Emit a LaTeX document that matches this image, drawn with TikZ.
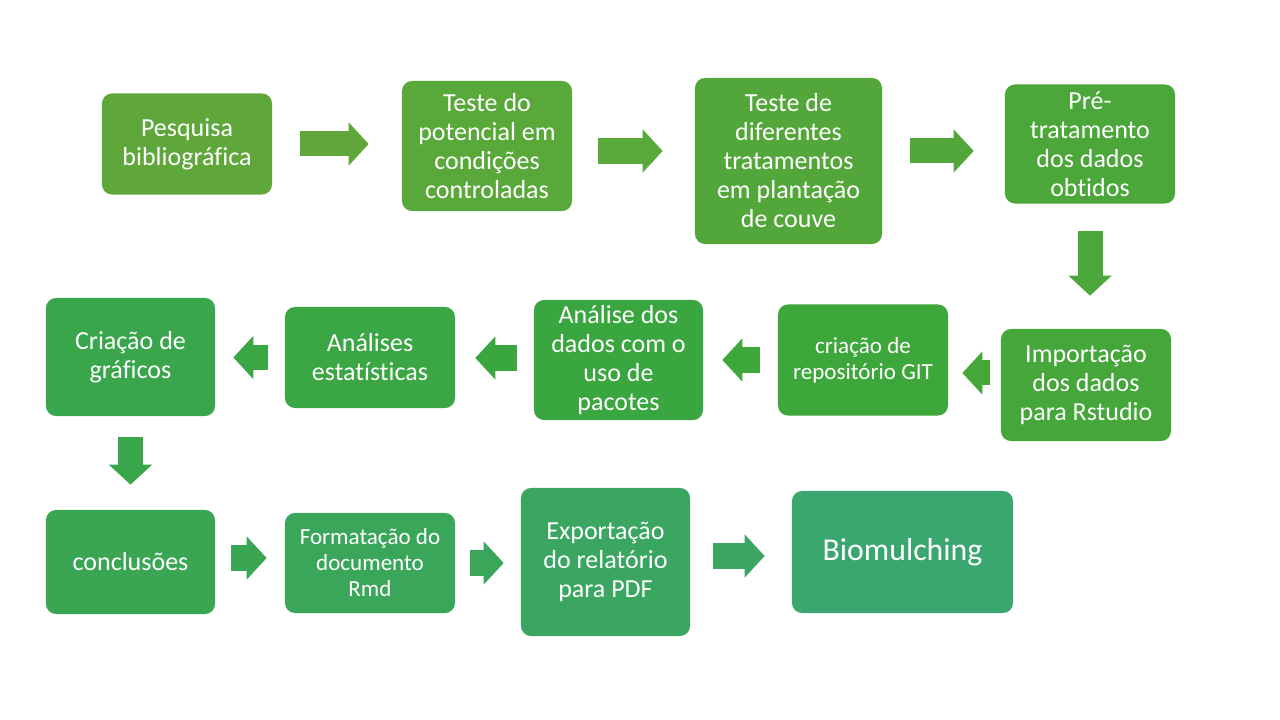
\documentclass[tikz,border=0pt]{standalone}
\usepackage{fontspec}
\setmainfont[Ligatures=NoCommon]{Carlito}
\usetikzlibrary{arrows.meta}

\definecolor{verdeA}{HTML}{5FA73A}
\definecolor{verdeB}{HTML}{59A83A}
\definecolor{verdeC}{HTML}{53A73A}
\definecolor{verdeD}{HTML}{4CA73A}
\definecolor{verdeE}{HTML}{45A73A}
\definecolor{verdeF}{HTML}{3EA73B}
\definecolor{verdeG}{HTML}{3AA63F}
\definecolor{verdeH}{HTML}{3AA644}
\definecolor{verdeI}{HTML}{3AA64C}
\definecolor{verdeJ}{HTML}{3AA653}
\definecolor{verdeK}{HTML}{3AA65A}
\definecolor{verdeL}{HTML}{3AA661}
\definecolor{verdeM}{HTML}{3AA76E}

\begin{document}
\begin{tikzpicture}[
  x=0.025cm, y=-0.025cm,
  font=\fontsize{18.5}{20.6}\selectfont,
  box/.style={
    fill=#1,
    text=white,
    rounded corners=0.25cm,
    align=center,
    inner sep=2pt
  },
  small/.style={font=\fontsize{16.4}{18.5}\selectfont},
  seta/.style={
    draw=#1,
    line width=0.625cm,
    -{Triangle[length=0.5cm,width=1.05cm]}
  }
]

\useasboundingbox (0,0) rectangle (1280,720);

\node[box=verdeA, minimum width=4.25cm, minimum height=2.525cm] (pesquisa) at (187,144) {Pesquisa\\bibliográfica};
\node[box=verdeB, minimum width=4.25cm, minimum height=3.25cm] (potencial) at (487,146) {Teste do\\potencial em\\condições\\controladas};
\node[box=verdeC, minimum width=4.675cm, minimum height=4.15cm] (diferentes) at (788.5,161) {Teste de\\diferentes\\tratamentos\\em plantação\\de couve};
\node[box=verdeD, minimum width=4.25cm, minimum height=2.975cm] (pre) at (1090,144) {Pré-\\tratamento\\dos dados\\obtidos};

\node[box=verdeE, minimum width=4.25cm, minimum height=2.8cm] (importacao) at (1086,385) {Importação\\dos dados\\para Rstudio};
\node[box=verdeF, small, minimum width=4.25cm, minimum height=2.775cm] (repositorio) at (863,360) {criação de\\repositório GIT};
\node[box=verdeG, minimum width=4.225cm, minimum height=3.0cm] (analise) at (618.5,360) {Análise dos\\dados com o\\uso de\\pacotes};
\node[box=verdeH, minimum width=4.25cm, minimum height=2.525cm] (estatisticas) at (370,357.5) {Análises\\estatísticas};
\node[box=verdeI, minimum width=4.225cm, minimum height=2.95cm] (graficos) at (130.5,357) {Criação de\\gráficos};

\node[box=verdeJ, minimum width=4.225cm, minimum height=2.6cm] (conclusoes) at (130.5,562) {conclusões};
\node[box=verdeK, small, minimum width=4.25cm, minimum height=2.5cm] (formatacao) at (370,563) {Formatação do\\documento\\Rmd};
\node[box=verdeL, minimum width=4.225cm, minimum height=3.7cm] (exportacao) at (605.5,562) {Exportação\\do relatório\\para PDF};
\node[box=verdeM, font=\fontsize{22.6}{25}\selectfont, minimum width=5.525cm, minimum height=3.05cm] (biomulching) at (902.5,552) {Biomulching};

\draw[seta=verdeA, shorten <=0.7cm, shorten >=0.825cm] (pesquisa.east) -- (pesquisa.east -| potencial.west);
\draw[seta=verdeB, shorten <=0.65cm, shorten >=0.8cm] ([yshift=-0.125cm]potencial.east) -- ([yshift=-0.125cm]potencial.east -| diferentes.west);
\draw[seta=verdeC, shorten <=0.7cm, shorten >=0.775cm] ([yshift=0.25cm]diferentes.east) -- ([yshift=0.25cm]diferentes.east -| pre.west);
\draw[seta=verdeD, shorten <=0.675cm, shorten >=0.825cm] (pre.south) -- (pre.south |- importacao.north);

\draw[seta=verdeE, shorten <=0.275cm, shorten >=0.35cm] ([yshift=0.3cm]importacao.west) -- ([yshift=0.3cm]importacao.west -| repositorio.east);
\draw[seta=verdeF, shorten <=0.45cm, shorten >=0.475cm] (repositorio.west) -- (repositorio.west -| analise.east);
\draw[seta=verdeG, shorten <=0.425cm, shorten >=0.5cm] ([yshift=0.05cm]analise.west) -- ([yshift=0.05cm]analise.west -| estatisticas.east);
\draw[seta=verdeH, shorten <=0.425cm, shorten >=0.45cm] (estatisticas.west) -- (estatisticas.west -| graficos.east);
\draw[seta=verdeI, shorten <=0.525cm, shorten >=0.625cm] (graficos.south) -- (graficos.south |- conclusoes.north);

\draw[seta=verdeJ, shorten <=0.4cm, shorten >=0.45cm] ([yshift=0.1cm]conclusoes.east) -- ([yshift=0.1cm]conclusoes.east -| formatacao.west);
\draw[seta=verdeK, shorten <=0.375cm, shorten >=0.425cm] (formatacao.east) -- (formatacao.east -| exportacao.west);
\draw[seta=verdeL, shorten <=0.575cm, shorten >=0.675cm] ([yshift=0.15cm]exportacao.east) -- ([yshift=0.15cm]exportacao.east -| biomulching.west);

\end{tikzpicture}
\end{document}
